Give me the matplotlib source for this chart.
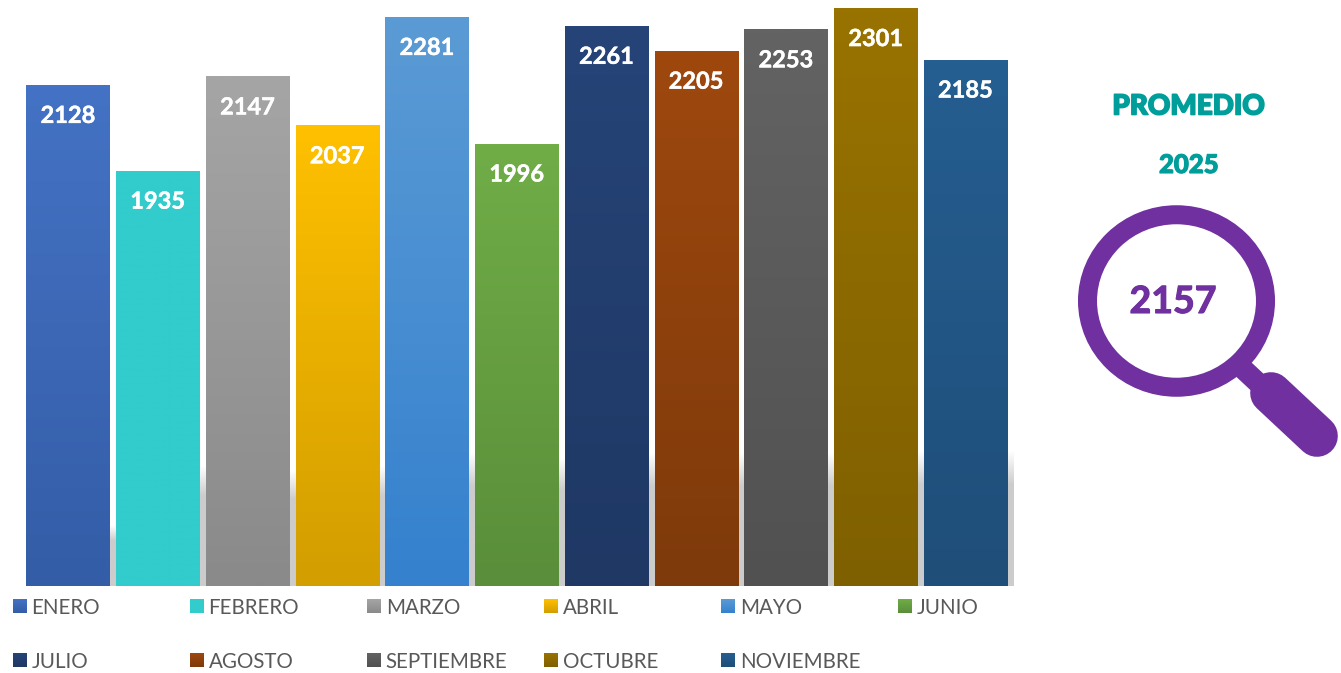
import numpy as np
import matplotlib.pyplot as plt
import matplotlib.patheffects as pe
from matplotlib.colors import to_rgb
from matplotlib.patches import Ellipse

months = ['ENERO', 'FEBRERO', 'MARZO', 'ABRIL', 'MAYO', 'JUNIO', 'JULIO',
          'AGOSTO', 'SEPTIEMBRE', 'OCTUBRE', 'NOVIEMBRE']
values = [2128, 1935, 2147, 2037, 2281, 1996, 2261, 2205, 2253, 2301, 2185]
top_colors = ['#4472C4', '#33CCCC', '#A5A5A5', '#FFC000', '#5B9BD5', '#70AD47',
              '#264478', '#9E480E', '#636363', '#997300', '#255E91']
bottom_colors = ['#345DA7', '#33CCCC', '#8A8A8A', '#D29E00', '#3581CE', '#5A8E3A',
                 '#1F3864', '#7E3A0B', '#515151', '#7F6000', '#1F4E79']
# where the grey shadow starts to show in the gap right of each bar
shadow_tops = [1137, 1272, 1260, 1272, 1300, 1290, 1300, 1300, 1300, 1306, 1306]
average = 2157
year = '2025'

purple = '#7030A0'
teal = '#009E9A'
bar_w = 0.925

plt.rcParams['font.family'] = ['Lato', 'DejaVu Sans']
fig = plt.figure(figsize=(13.41, 6.73), dpi=100, facecolor='white')
ax = fig.add_axes([23.1 / 1341, 87 / 673, 987.25 / 1341, 578 / 673])


def ramp(c1, c2):
    c1, c2 = np.array(to_rgb(c1)), np.array(to_rgb(c2))
    t = np.linspace(0, 1, 64)[:, None]
    return (c1 * (1 - t) + c2 * t)[:, None, :]


# Shadows in the gaps.
for i, top in enumerate(shadow_tops):
    shade = np.ones((64, 1, 4)) * 0.8
    shade[:, 0, 3] = np.clip(np.linspace(0, 4, 64), 0, 1)
    x0 = i + bar_w / 2
    x1 = min(i + 1 - bar_w / 2, 10.53)
    im = ax.imshow(shade, extent=(x0, x1, 1000, top), aspect='auto', zorder=1,
                   interpolation='bilinear')
    im.set_clip_on(False)

# Bars with a top to bottom gradient.
bars = ax.bar(range(len(values)), values, width=bar_w, color=top_colors, zorder=2)
for i, b in enumerate(bars):
    im = ax.imshow(ramp(top_colors[i], bottom_colors[i]), aspect='auto', zorder=3,
                   extent=(i - bar_w / 2, i + bar_w / 2, 1000, values[i]),
                   interpolation='bilinear')
    im.set_clip_path(b)
    ax.annotate(str(values[i]), xy=(i, values[i]), xytext=(0, -22),
                textcoords='offset points', ha='center', va='center',
                color='white', fontsize=17, fontweight='bold', zorder=4,
                path_effects=[pe.withStroke(linewidth=0.3, foreground='white')])

ax.set_xlim(-0.5, 10.5)
ax.set_ylim(1000, 2301)
ax.axis('off')

# Overlay in pixel coordinates for the legend and the magnifier.
ov = fig.add_axes([0, 0, 1, 1])
ov.set_xlim(0, 1341)
ov.set_ylim(673, 0)
ov.axis('off')

for i, name in enumerate(months):
    x = 13 + 177.1 * (i % 6)
    y = 606 + 54 * (i // 6)
    ov.imshow(ramp(top_colors[i], bottom_colors[i]), aspect='auto',
              extent=(x, x + 14, y + 7, y - 7), interpolation='bilinear')
    ov.text(x + 18.5, y + 1.5, name, ha='left', va='center', color='#595959', fontsize=14.8)

ov.text(1188.5, 106.5, 'PROMEDIO', ha='center', va='center', color=teal,
        fontsize=20, fontweight='black',
        path_effects=[pe.withStroke(linewidth=1.2, foreground=teal)])
ov.text(1189, 165, year, ha='center', va='center', color=teal,
        fontsize=18.5, fontweight='black',
        path_effects=[pe.withStroke(linewidth=0.8, foreground=teal)])

# Magnifying glass.
ov.plot([1240, 1272], [366, 396], color=purple, lw=15, solid_capstyle='butt', zorder=5)
ov.plot([1271, 1317], [393, 436], color=purple, lw=30, solid_capstyle='round', zorder=5)
ov.add_patch(Ellipse((1176.5, 301), 178, 172.5, facecolor='white', edgecolor=purple,
                     lw=13.7, zorder=6))
ov.text(1173, 302, str(average), ha='center', va='center', color=purple,
        fontsize=27, fontweight='bold', zorder=7,
        path_effects=[pe.withStroke(linewidth=0.8, foreground=purple)])
ov.set_xlim(0, 1341)
ov.set_ylim(673, 0)
ov.set_aspect('auto')

fig.savefig('out.png', dpi=100)
